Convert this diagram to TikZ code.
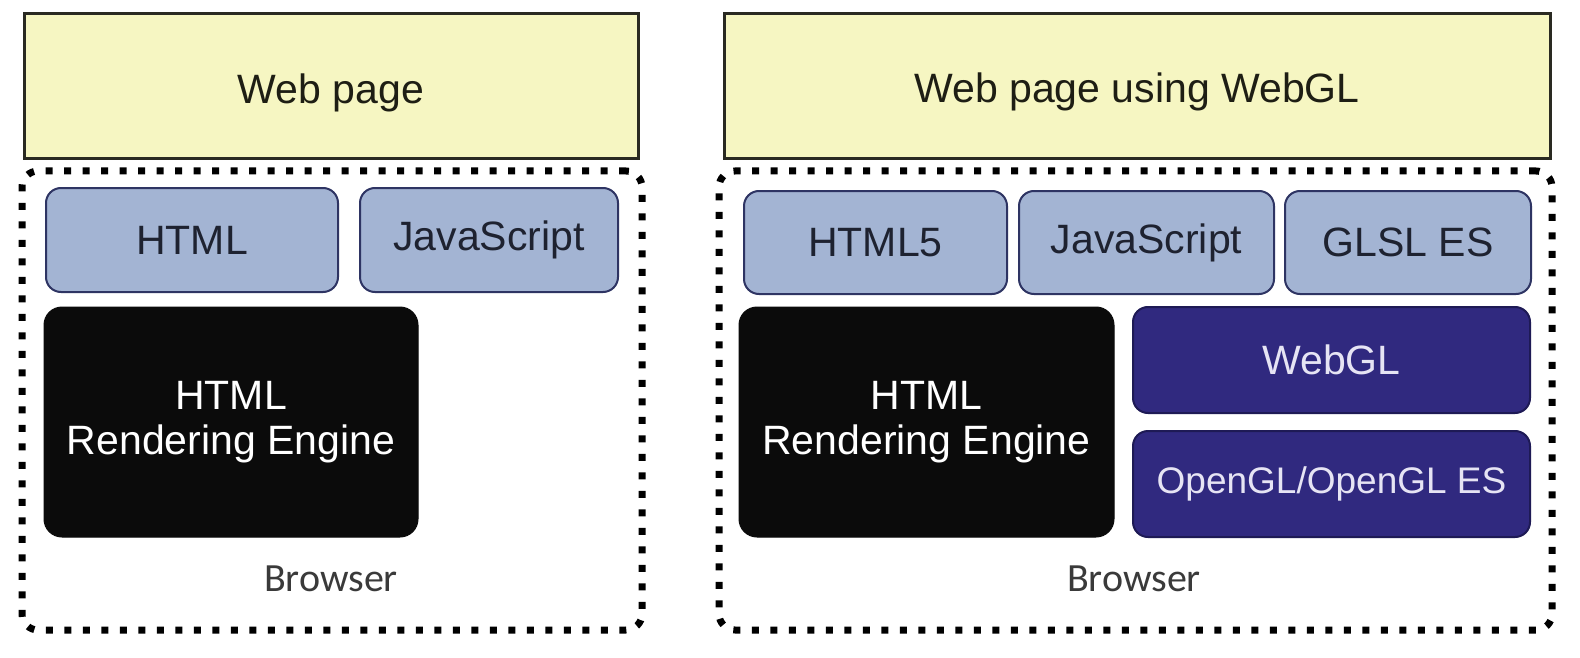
\documentclass[tikz,border=0pt]{standalone}
\usepackage{fontspec}
\setmainfont{Liberation Sans}
\newfontfamily\brfont{Carlito}
\definecolor{pageyellow}{HTML}{F6F6C2}
\definecolor{pageedge}{HTML}{2A2A22}
\definecolor{pagetext}{HTML}{1E1E14}
\definecolor{langblue}{HTML}{A3B4D3}
\definecolor{langedge}{HTML}{2E3463}
\definecolor{langtext}{HTML}{1E2230}
\definecolor{glpurple}{HTML}{30297F}
\definecolor{gledge}{HTML}{1E1A55}
\definecolor{gltext}{HTML}{E6E4F4}
\definecolor{engblack}{HTML}{0B0B0B}
\definecolor{brgray}{HTML}{3A3A3A}
\newcommand{\lowerby}[2]{\raisebox{-#1}[\height][\depth]{#2}}
\tikzset{
  pagebox/.style={draw=pageedge, fill=pageyellow, line width=3pt, text=pagetext,
    font=\fontsize{41}{45}\selectfont, inner sep=0pt},
  browserbox/.style={draw=black, line width=7pt, dash pattern=on 7pt off 11.5pt,
    rounded corners=16pt, inner sep=0pt},
  langbox/.style={draw=langedge, fill=langblue, line width=2pt, rounded corners=15pt,
    text=langtext, font=\fontsize{41}{45}\selectfont, inner sep=0pt},
  engbox/.style={draw=engblack, fill=engblack, line width=1pt, rounded corners=18pt,
    text=white, align=center, font=\fontsize{41}{45}\selectfont, inner sep=0pt},
  glbox/.style={draw=gledge, fill=glpurple, line width=2pt, rounded corners=15pt,
    text=gltext, font=\fontsize{41}{45}\selectfont, inner sep=0pt},
  brlabel/.style={text=brgray, font=\brfont\fontsize{40}{44}\selectfont, inner sep=0pt}
}
\begin{document}
\begin{tikzpicture}[x=1pt, y=-1pt]
\useasboundingbox[fill=white] (0,0) rectangle (1580,658);
% left panel
\node[pagebox, minimum width=614pt, minimum height=145pt] (web1) at (331,86.5) {\lowerby{6pt}{Web page}};
\node[browserbox, minimum width=620pt, minimum height=459pt] (br1) at (332,400.5) {};
\node[langbox, minimum width=292pt, minimum height=104pt] (html1) at (192,240) {HTML};
\node[langbox, minimum width=258pt, minimum height=104pt] (js1) at (489,240) {JavaScript};
\node[engbox, minimum width=374pt, minimum height=230pt] (eng1) at (231,422) {HTML\\Rendering Engine};
\node[brlabel] (brl1) at (331,579) {Browser};
% right panel
\node[pagebox, minimum width=826pt, minimum height=145pt] (web2) at (1137,86.5) {\lowerby{5pt}{Web page using WebGL}};
\node[browserbox, minimum width=833pt, minimum height=459pt] (br2) at (1135.5,400.5) {};
\node[langbox, minimum width=263pt, minimum height=103pt] (html5) at (875.5,242.5) {HTML5};
\node[langbox, minimum width=255pt, minimum height=103pt] (js2) at (1146.5,242.5) {JavaScript};
\node[langbox, minimum width=246pt, minimum height=103pt] (glsl) at (1408,242.5) {GLSL ES};
\node[engbox, minimum width=375pt, minimum height=230pt] (eng2) at (926.5,422) {HTML\\Rendering Engine};
\node[glbox, minimum width=397pt, minimum height=106pt] (webgl) at (1331.5,360) {WebGL};
\node[glbox, minimum width=397pt, minimum height=106pt, font=\fontsize{37}{41}\selectfont] (opengl) at (1331.5,484) {OpenGL/OpenGL ES};
\node[brlabel] (brl2) at (1134,579) {Browser};
\end{tikzpicture}
\end{document}
